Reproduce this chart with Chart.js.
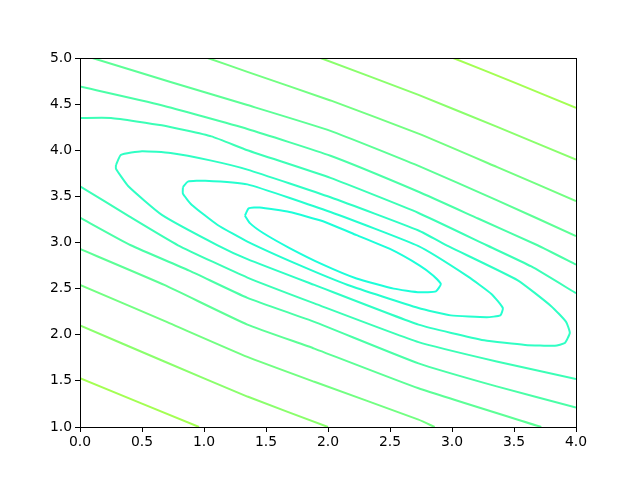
<!DOCTYPE html>
<html>
<head>
<meta charset="utf-8">
<script src="https://cdn.jsdelivr.net/npm/chart.js@4/dist/chart.umd.min.js"></script>
<style>
  body { margin: 0; background: #fff; }
</style>
</head>
<body>
<canvas id="contour" width="640" height="480"></canvas>
<script>
// contour lines, [x, y] pairs, innermost level first
const ringInner = [[1.33,3.29],[1.36,3.37],[1.45,3.38],[1.69,3.33],[1.96,3.23],[2.23,3.08],[2.50,2.93],[2.74,2.75],[2.85,2.64],[2.91,2.55],[2.87,2.47],[2.74,2.46],[2.53,2.50],[2.23,2.61],[1.96,2.76],[1.69,2.94],[1.48,3.10],[1.37,3.21],[1.33,3.29]];
const ringMiddle = [[0.83,3.60],[0.87,3.66],[1.01,3.67],[1.35,3.63],[2.02,3.33],[2.73,2.96],[3.13,2.63],[3.32,2.44],[3.41,2.29],[3.39,2.21],[3.28,2.19],[2.99,2.21],[2.73,2.29],[2.16,2.54],[1.76,2.76],[1.35,3.01],[1.11,3.19],[0.90,3.41],[0.83,3.53],[0.83,3.60]];
const ringOuter = [[0.29,3.84],[0.33,3.95],[0.50,3.99],[0.73,3.97],[1.05,3.89],[1.35,3.79],[2.02,3.49],[2.73,3.13],[2.97,2.96],[3.53,2.59],[3.80,2.31],[3.92,2.14],[3.95,2.02],[3.91,1.91],[3.83,1.88],[3.59,1.89],[3.26,1.94],[2.73,2.11],[1.89,2.54],[1.35,2.82],[1.11,2.97],[0.66,3.30],[0.39,3.61],[0.29,3.80],[0.29,3.84]];

const upperF = [[0,4.35],[0.25,4.35],[0.66,4.27],[1.06,4.15],[1.35,4.00],[2.02,3.70],[2.73,3.32],[3.28,2.97],[3.64,2.74],[4.0,2.45]];
const upperE = [[0,4.69],[0.65,4.49],[1.35,4.23],[2.02,3.94],[2.73,3.55],[3.21,3.26],[3.69,2.97],[4.0,2.76]];
const upperD = [[0.10,5.0],[0.73,4.74],[1.35,4.49],[2.02,4.21],[2.73,3.83],[3.36,3.46],[4.0,3.07]];
const upperC = [[1.03,5.0],[1.35,4.85],[2.02,4.54],[2.73,4.18],[3.36,3.82],[4.0,3.45]];
const upperB = [[1.94,5.0],[2.73,4.60],[3.37,4.25],[4.0,3.90]];
const upperA = [[3.01,5.0],[3.51,4.73],[4.0,4.46]];

const lowerF = [[0,3.61],[0.40,3.28],[0.79,2.97],[1.35,2.62],[1.89,2.34],[2.73,1.92],[3.36,1.71],[4.0,1.52]];
const lowerE = [[0,3.27],[0.41,2.97],[0.89,2.69],[1.35,2.40],[1.89,2.14],[2.73,1.69],[3.36,1.44],[4.0,1.21]];
const lowerD = [[0,2.93],[0.68,2.54],[1.35,2.11],[1.89,1.85],[2.73,1.42],[3.72,1.0]];
const lowerC = [[0,2.54],[0.68,2.15],[1.35,1.76],[1.89,1.49],[2.73,1.08],[2.86,1.0]];
const lowerB = [[0,2.10],[0.68,1.71],[1.35,1.33],[2.0,1.0]];
const lowerA = [[0,1.53],[0.96,1.0]];

const levelColors = ['#1cffd9', '#25ffcf', '#2fffc4', '#3bffb6', '#4affa7', '#5cff96', '#72ff82', '#8aff6c', '#a3ff52'];
const levelLines = [[ringInner], [ringMiddle], [ringOuter], [upperF, lowerF], [upperE, lowerE], [upperD, lowerD], [upperC, lowerC], [upperB, lowerB], [upperA, lowerA]];

const xTicks = [0, 0.5, 1, 1.5, 2, 2.5, 3, 3.5, 4];
const yTicks = [1, 1.5, 2, 2.5, 3, 3.5, 4, 4.5, 5];

const datasets = [];
levelLines.forEach((lines, i) => {
    lines.forEach(line => {
        datasets.push({
            data: line.map(p => ({ x: p[0], y: p[1] })),
            showLine: true,
            borderColor: levelColors[i],
            borderWidth: 2,
            pointRadius: 0,
            tension: 0.15,
            fill: false
        });
    });
});

const frame = {
    id: 'frame',
    afterDatasetsDraw(chart) {
        const a = chart.chartArea;
        const ctx = chart.ctx;
        ctx.save();
        ctx.strokeStyle = '#000';
        ctx.lineWidth = 1;
        ctx.strokeRect(a.left + 0.5, a.top + 0.5, a.right - a.left, a.bottom - a.top);
        ctx.restore();
    }
};

const tickFont = { family: 'DejaVu Sans', size: 13.9 };

new Chart(document.getElementById('contour'), {
    type: 'scatter',
    data: { datasets },
    options: {
        responsive: false,
        animation: false,
        layout: { padding: { left: 0, right: 64, top: 58, bottom: 0 } },
        plugins: { legend: { display: false }, tooltip: { enabled: false } },
        scales: {
            x: {
                type: 'linear',
                min: 0,
                max: 4,
                afterBuildTicks: scale => { scale.ticks = xTicks.map(v => ({ value: v })); },
                afterFit: scale => { scale.height = 53; },
                border: { display: false },
                grid: { drawOnChartArea: false, drawTicks: true, tickLength: 5, color: '#000' },
                ticks: { color: '#000', font: tickFont, padding: 2, maxRotation: 0, callback: v => Number(v).toFixed(1) }
            },
            y: {
                type: 'linear',
                min: 1,
                max: 5,
                afterBuildTicks: scale => { scale.ticks = yTicks.map(v => ({ value: v })); },
                afterFit: scale => { scale.width = 80; },
                border: { display: false },
                grid: { drawOnChartArea: false, drawTicks: true, tickLength: 5, color: '#000' },
                ticks: { color: '#000', font: tickFont, padding: 3, callback: v => Number(v).toFixed(1) }
            }
        }
    },
    plugins: [frame]
});
</script>
</body>
</html>
